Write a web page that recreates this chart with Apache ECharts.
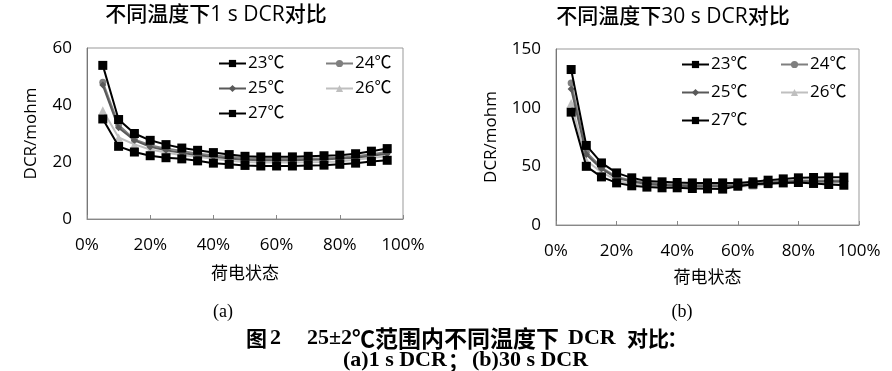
<!DOCTYPE html>
<html><head><meta charset="utf-8">
<script src="https://cdn.jsdelivr.net/npm/echarts@6/dist/echarts.min.js"></script>
<style>html,body{margin:0;padding:0;background:#fff}#c{width:892px;height:371px}</style>
</head><body><div id="c"></div>
<script>
// categories: state of charge (%)
const soc = [5,10,15,20,25,30,35,40,45,50,55,60,65,70,75,80,85,90,95];
const seriesNames = ['23℃','24℃','25℃','26℃','27℃'];
const xTicks = ['0%','20%','40%','60%','80%','100%'];
// (a) 1 s DCR (mohm)
const dcr1s_23 = [53.9,34.9,30.0,27.6,26.1,24.9,24.1,23.3,22.6,22.0,21.8,21.8,21.8,22.0,22.2,22.4,22.9,23.8,24.7];
const dcr1s_24 = [48.0,33.0,27.9,25.9,24.7,23.9,22.9,22.4,21.8,21.3,21.1,21.1,21.1,21.2,21.3,21.5,22.0,22.7,23.5];
const dcr1s_25 = [47.0,32.0,27.6,25.3,24.1,23.2,22.4,21.8,21.2,20.8,20.6,20.6,20.6,20.8,20.9,21.2,21.5,22.2,22.9];
const dcr1s_26 = [38.2,28.6,26.2,24.4,23.3,22.4,21.8,21.1,20.4,20.0,19.8,19.8,19.8,19.9,20.0,20.2,20.8,21.4,22.0];
const dcr1s_27 = [35.1,25.5,23.5,22.2,21.5,21.1,20.4,19.6,19.2,18.8,18.6,18.6,18.6,18.8,18.9,19.2,19.6,20.2,20.6];
// (b) 30 s DCR (mohm)
const dcr30s_23 = [132.5,67.8,52.9,44.4,40.2,37.4,36.8,36.2,35.9,35.9,35.9,35.9,36.8,38.2,39.3,40.2,40.5,40.8,40.8];
const dcr30s_24 = [121,62,49,41,38,36,35,34.5,34,34,34,34.5,35.5,36.5,37.5,38,38,38,38];
const dcr30s_25 = [116,60,48,40,37,35,34,33.5,33,33,33,33.5,34.5,35.5,36.5,37,37,37,37];
const dcr30s_26 = [104,55,45,38,35,34,33,32.5,32,32,32,32.5,33.5,34.5,35.5,36,36,36,36];
const dcr30s_27 = [96.2,50,41,35.9,33.4,32.3,31.7,31.7,31.1,30.8,30.6,33.1,34.8,35.4,35.9,36.2,35.4,34.5,33.9];

const FONT = '"Open Sans","Noto Sans CJK SC",sans-serif';
const SERIF = '"Liberation Serif",serif';
const CJK = '"Noto Sans CJK SC",sans-serif';
const styles = [
  {color:'#000000', symbol:'rect', size:9},
  {color:'#7f7f7f', symbol:'circle', size:7},
  {color:'#595959', symbol:'diamond', size:7},
  {color:'#bfbfbf', symbol:'triangle', size:8},
  {color:'#000000', symbol:'rect', size:9}
];
const data1 = [dcr1s_23,dcr1s_24,dcr1s_25,dcr1s_26,dcr1s_27];
const data30 = [dcr30s_23,dcr30s_24,dcr30s_25,dcr30s_26,dcr30s_27];

function mkSeries(arr, gi){
  return arr.map((vals,i)=>({
    name: seriesNames[i], type:'line', xAxisIndex:gi, yAxisIndex:gi,
    data: soc.map((s,k)=>[s/100, vals[k]]),
    symbol: styles[i].symbol, symbolSize: styles[i].size, showSymbol:true,
    lineStyle:{color:styles[i].color, width:2},
    itemStyle:{color:styles[i].color},
    z: 2 + (i===0||i===4 ? 3 : i===1 ? 1 : i===2 ? 2 : 0),
    animation:false
  }));
}
function xAx(gi, gap){
  return {type:'value', gridIndex:gi, min:0, max:1, interval:0.2,
    axisLabel:{formatter:(v)=>xTicks[Math.round(v*5)], fontSize:17, color:'#000', fontFamily:FONT, margin:18},
    axisLine:{lineStyle:{color:'#888'}}, axisTick:{inside:true, length:4, lineStyle:{color:'#888'}},
    splitLine:{show:false},
    name:'荷电状态', nameLocation:'middle', nameGap:gap,
    nameTextStyle:{fontSize:17, color:'#000', fontFamily:FONT}};
}
function yAx(gi, max, interval, gap){
  return {type:'value', gridIndex:gi, min:0, max:max, interval:interval,
    axisLabel:{fontSize:17, color:'#000', fontFamily:FONT, margin:15},
    axisLine:{show:true, lineStyle:{color:'#777'}}, axisTick:{show:false},
    splitLine:{show:false},
    name:'DCR/mohm', nameLocation:'middle', nameGap:gap, nameRotate:90,
    nameTextStyle:{fontSize:17, color:'#000', fontFamily:FONT}};
}
function legend(names, left, top, gap){
  return {data:names, orient:'vertical', left:left, top:top, itemWidth:27, itemHeight:9, itemGap:gap,
    textStyle:{fontSize:17, color:'#000', fontFamily:FONT, padding:[0,0,0,-3]}};
}
function txt(x, y, text, font, align){
  return {type:'text', x:x, y:y, style:{text:text, align:align||'left', verticalAlign:'middle', font:font, fill:'#000'}};
}
const chart = echarts.init(document.getElementById('c'));
chart.setOption({
  animation:false,
  backgroundColor:'#fff',
  grid:[
    {left:87, top:48, width:316, height:171, show:true, borderColor:'#999', borderWidth:1},
    {left:556, top:49, width:303, height:176, show:true, borderColor:'#999', borderWidth:1}
  ],
  xAxis:[xAx(0,47), xAx(1,45)],
  yAxis:[yAx(0,60,20,47), yAx(1,150,50,56)],
  legend:[
    legend([seriesNames[0],seriesNames[2],seriesNames[4]], 213, 50, 8),
    legend([seriesNames[1],seriesNames[3]], 320, 50, 8),
    legend([seriesNames[0],seriesNames[2],seriesNames[4]], 676, 51, 11),
    legend([seriesNames[1],seriesNames[3]], 775, 51, 11)
  ],
  series: mkSeries(data1,0).concat(mkSeries(data30,1)),
  graphic:[
    txt(216, 15, '不同温度下1 s DCR对比', '500 21px '+FONT, 'center'),
    txt(673, 17, '不同温度下30 s DCR对比', '500 21px '+FONT, 'center'),
    txt(223, 312, '(a)', '18px '+SERIF, 'center'),
    txt(682, 312, '(b)', '18px '+SERIF, 'center'),
    // caption line 1
    txt(246, 338, '图', 'bold 21px '+CJK),
    txt(270, 338, '2', 'bold 22px '+SERIF),
    txt(307, 338, '25±2', 'bold 22px '+SERIF),
    txt(352, 338, '℃范围内不同温度下', 'bold 23px '+CJK),
    txt(568, 338, 'DCR', 'bold 22px '+SERIF),
    txt(627, 338, '对比', 'bold 21px '+CJK),
    txt(667, 338, '：', 'bold 21px '+CJK),
    // caption line 2
    txt(343, 360, '(a)1 s DCR', 'bold 22px '+SERIF),
    txt(448, 360, '；', 'bold 21px '+CJK),
    txt(472, 360, '(b)30 s DCR', 'bold 22px '+SERIF)
  ]
});
</script></body></html>
